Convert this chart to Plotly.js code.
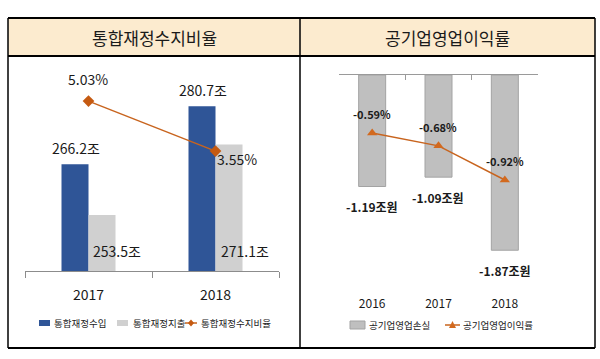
<!DOCTYPE html>
<html>
<head>
<meta charset="utf-8">
<script src="https://cdn.plot.ly/plotly-3.0.1.min.js"></script>
<style>html,body{margin:0;padding:0;background:#fff}#chart{width:600px;height:359px}</style>
</head>
<body>
<div id="chart"></div>
<script>
// ---- data ----
const leftYears = ['2017', '2018'];
const revenue = [266.2, 280.7];          // 통합재정수입 (조)
const expenditure = [253.5, 271.1];      // 통합재정지출 (조)
const balanceRatio = [5.03, 3.55];       // 통합재정수지비율 (%)
const revenueLabels = ['266.2조', '280.7조'];
const expenditureLabels = ['253.5조', '271.1조'];
const ratioLabels = ['5.03%', '3.55%'];

const rightYears = ['2016', '2017', '2018'];
const operatingLoss = [-1.19, -1.09, -1.87];   // 공기업영업손실 (조원)
const operatingMargin = [-0.59, -0.68, -0.92]; // 공기업영업이익률 (%)
const lossLabels = ['-1.19조원', '-1.09조원', '-1.87조원'];
const marginLabels = ['-0.59%', '-0.68%', '-0.92%'];

const leftTitle = '통합재정수지비율';
const rightTitle = '공기업영업이익률';
const leftLegend = ['통합재정수입', '통합재정지출', '통합재정수지비율'];
const rightLegend = ['공기업영업손실', '공기업영업이익률'];

// ---- helpers ----
const W = 600, H = 359;
const px = x => x / W;
const py = y => 1 - y / H;
const FONT = '"Noto Sans CJK KR", "Noto Sans", sans-serif';
const BLUE = '#2F5597', LGRAY = '#D0D0D0', MGRAY = '#BFBFBF', ORANGE = '#C8641E';
const Y_MIN = 239.5;

const traces = [
  { type: 'bar', x: leftYears, y: revenue, xaxis: 'x', yaxis: 'y', marker: { color: BLUE },
    width: 0.2126, offset: -0.2126, hoverinfo: 'skip', showlegend: false },
  { type: 'bar', x: leftYears, y: expenditure, xaxis: 'x', yaxis: 'y', marker: { color: LGRAY },
    width: 0.2126, offset: 0, hoverinfo: 'skip', showlegend: false },
  { type: 'scatter', mode: 'lines+markers', x: leftYears, y: balanceRatio, xaxis: 'x', yaxis: 'y2',
    line: { color: ORANGE, width: 1.5 }, marker: { symbol: 'diamond', size: 9, color: '#C55A11' },
    hoverinfo: 'skip', showlegend: false },
  { type: 'bar', x: rightYears, y: operatingLoss, xaxis: 'x3', yaxis: 'y3',
    marker: { color: MGRAY, line: { color: '#A3A3A3', width: 1 } }, width: 0.407,
    hoverinfo: 'skip', showlegend: false },
  { type: 'scatter', mode: 'lines+markers', x: rightYears, y: operatingMargin, xaxis: 'x4', yaxis: 'y4',
    line: { color: ORANGE, width: 1.5 }, marker: { symbol: 'triangle-up', size: 9, color: '#D2691E' },
    hoverinfo: 'skip', showlegend: false }
];

const annotations = [];
const ann = (o) => annotations.push(Object.assign({ showarrow: false, xanchor: 'center', yanchor: 'middle',
  font: { family: FONT, size: 14, color: '#1a1a1a' } }, o));

// headers
ann({ xref: 'paper', yref: 'paper', x: px(154), y: py(37), text: leftTitle, font: { family: FONT, size: 17, color: '#1a1a1a' } });
ann({ xref: 'paper', yref: 'paper', x: px(447), y: py(37), text: rightTitle, font: { family: FONT, size: 17, color: '#1a1a1a' } });

// left data labels (x given as category index)
leftYears.forEach((yr, i) => {
  ann({ xref: 'x', yref: 'y', x: i, y: revenue[i], text: revenueLabels[i], xshift: -13, yshift: 16 });
  ann({ xref: 'x', yref: 'y', x: i, y: Y_MIN, text: expenditureLabels[i], xshift: 28 + i * 1.5, yshift: 20 });
});
ann({ xref: 'x', yref: 'y2', x: 0, y: balanceRatio[0], text: ratioLabels[0], xshift: -1, yshift: 22 });
ann({ xref: 'x', yref: 'y2', x: 1, y: balanceRatio[1], text: ratioLabels[1], xshift: 21, yshift: -8 });

// right data labels
rightYears.forEach((yr, i) => {
  ann({ xref: 'x3', yref: 'y3', x: i, y: operatingLoss[i], text: lossLabels[i], yshift: -20,
        font: { family: FONT, size: 12, color: '#1a1a1a', weight: 'bold' } });
  ann({ xref: 'x4', yref: 'y4', x: i, y: operatingMargin[i], text: marginLabels[i], yshift: 19,
        font: { family: FONT, size: 11, color: '#1a1a1a', weight: 'bold' } });
});

// legends (custom)
const legFont = { family: FONT, size: 9.5, color: '#222' };
ann({ xref: 'paper', yref: 'paper', x: px(52), y: py(323), xanchor: 'left', text: leftLegend[0], font: legFont });
ann({ xref: 'paper', yref: 'paper', x: px(131), y: py(323), xanchor: 'left', text: leftLegend[1], font: legFont });
ann({ xref: 'paper', yref: 'paper', x: px(199), y: py(323), xanchor: 'left', text: leftLegend[2], font: legFont });
ann({ xref: 'paper', yref: 'paper', x: px(367), y: py(325), xanchor: 'left', text: rightLegend[0], font: legFont });
ann({ xref: 'paper', yref: 'paper', x: px(461), y: py(325), xanchor: 'left', text: rightLegend[1], font: legFont });

const line = (x0, y0, x1, y1, w, c) => ({ type: 'line', xref: 'paper', yref: 'paper',
  x0: px(x0), y0: py(y0), x1: px(x1), y1: py(y1), line: { color: c || '#000', width: w } });
const rect = (x0, y0, x1, y1, fill, lc) => ({ type: 'rect', xref: 'paper', yref: 'paper',
  x0: px(x0), y0: py(y0), x1: px(x1), y1: py(y1), fillcolor: fill, line: { color: lc || fill, width: lc ? 1 : 0 } });
const path = (pts, fill) => ({ type: 'path', xref: 'paper', yref: 'paper',
  path: 'M' + pts.map(p => px(p[0]) + ',' + py(p[1])).join(' L') + ' Z', fillcolor: fill, line: { width: 0 } });

const shapes = [
  rect(8, 18, 595, 56, '#FCEBCF'),
  line(8, 18, 595, 18, 2),
  line(8, 56, 595, 56, 2),
  line(8, 348, 595, 348, 2.2),
  line(8, 18, 8, 348, 1.5),
  line(595, 18, 595, 348, 1.5),
  line(300, 18, 300, 348, 1.5),
  // left legend symbols
  rect(39, 320, 50, 326, BLUE),
  rect(117, 320, 128, 326, LGRAY),
  line(185, 323, 197, 323, 1.5, ORANGE),
  path([[191, 319.5], [194, 323], [191, 326.5], [188, 323]], '#C55A11'),
  // right legend symbols
  rect(350, 321, 365, 329, MGRAY, '#A3A3A3'),
  line(445, 325, 460, 325, 1.5, ORANGE),
  path([[452.5, 321], [456, 328], [449, 328]], '#D2691E')
];

const layout = {
  width: W, height: H,
  margin: { l: 0, r: 0, t: 0, b: 0 },
  paper_bgcolor: '#fff', plot_bgcolor: 'rgba(0,0,0,0)',
  font: { family: FONT, color: '#1a1a1a' },
  barmode: 'overlay',
  showlegend: false,
  xaxis: { domain: [px(25), px(279)], anchor: 'y', type: 'category', range: [-0.5, 1.5],
    showline: true, linecolor: '#8c8c8c', linewidth: 1, ticks: 'outside', ticklen: 6, tickcolor: '#8c8c8c',
    tickson: 'boundaries', tickfont: { size: 14, color: '#1a1a1a' }, ticklabelstandoff: 11,
    showgrid: false, zeroline: false, fixedrange: true },
  yaxis: { domain: [py(271), py(60)], anchor: 'x', range: [Y_MIN, 292.25], visible: false, fixedrange: true },
  yaxis2: { overlaying: 'y', anchor: 'x', range: [0, 6.246], visible: false, fixedrange: true },
  xaxis3: { domain: [px(339), px(538)], anchor: 'y3', type: 'category', range: [-0.5, 2.5],
    showline: false, ticks: '', tickfont: { size: 12, color: '#1a1a1a' }, ticklabelstandoff: 10,
    showgrid: false, zeroline: false, fixedrange: true },
  yaxis3: { domain: [py(285), py(75)], anchor: 'x3', range: [-2.241, 0], visible: false, fixedrange: true },
  xaxis4: { overlaying: 'x3', anchor: 'y4', side: 'top', type: 'category', range: [-0.5, 2.5],
    showline: true, linecolor: '#9a9a9a', linewidth: 1, ticks: 'inside', ticklen: 5, tickcolor: '#9a9a9a',
    tickson: 'boundaries', showticklabels: false, showgrid: false, zeroline: false, fixedrange: true },
  yaxis4: { overlaying: 'y3', anchor: 'x4', range: [-1.657, -0.1826], visible: false, fixedrange: true },
  shapes: shapes,
  annotations: annotations
};

Plotly.newPlot('chart', traces, layout, { staticPlot: true, displayModeBar: false });
</script>
</body>
</html>
